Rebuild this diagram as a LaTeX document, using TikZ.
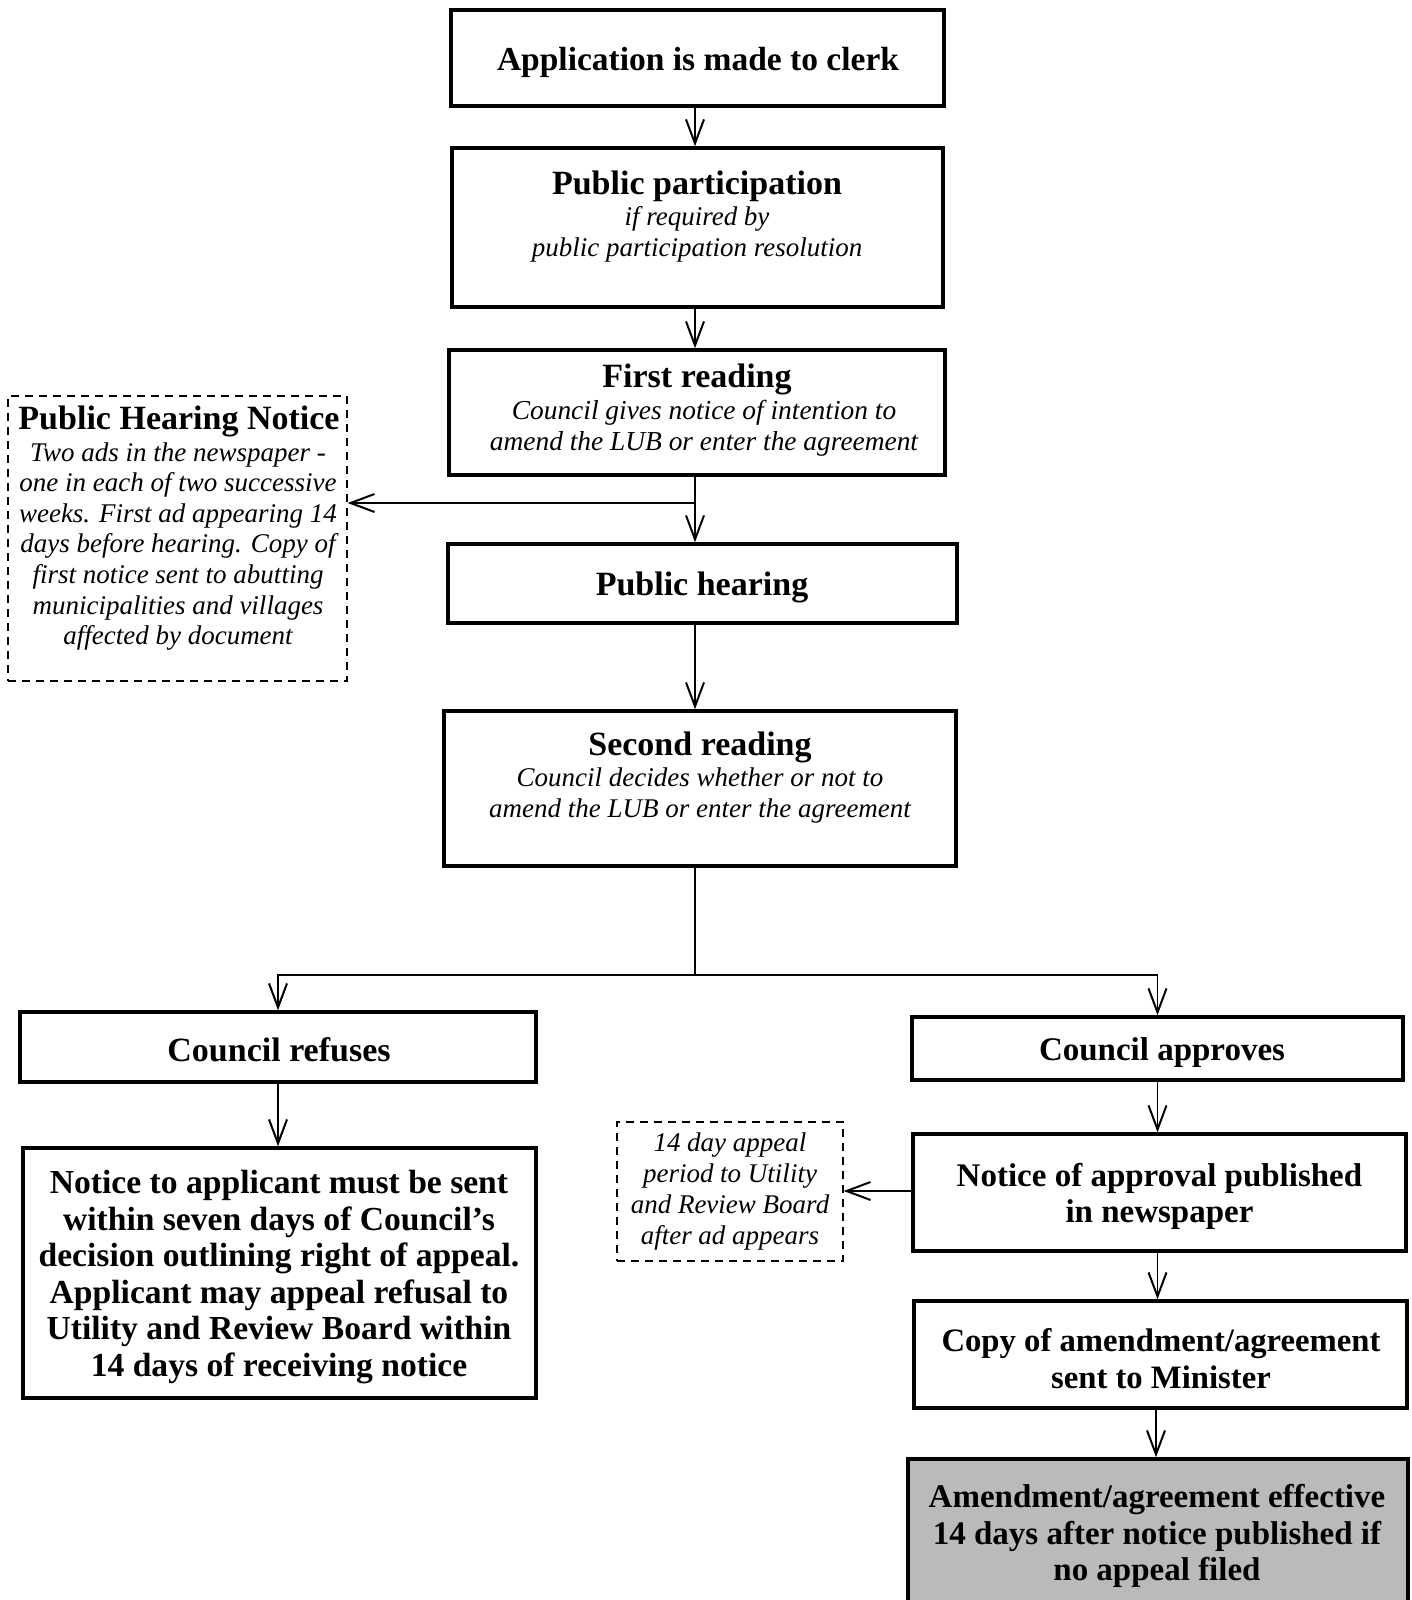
\documentclass[tikz,border=0pt]{standalone}
\usepackage{fontspec}
\setmainfont{Liberation Serif}
\usetikzlibrary{arrows.meta}
\tikzset{
  box/.style={draw, line width=3.5pt, inner sep=0pt},
  dbox/.style={draw, line width=1.3pt, dash pattern=on 8pt off 6pt, inner sep=0pt},
  bt/.style={inner sep=0pt, align=center, yshift=-4pt},
  it/.style={inner sep=0pt, align=center, yshift=-3pt},
  ttl/.style={bt, font=\fontsize{34}{37}\selectfont\bfseries},
  btx/.style={bt, font=\fontsize{33}{36.6}\selectfont\bfseries},
  sub/.style={it, font=\fontsize{27}{30.6}\selectfont\itshape},
  conn/.style={line width=1.3pt, -{Straight Barb[length=24pt,width=18pt,line width=2pt]}},
  plain/.style={line width=1.3pt},
}
\begin{document}
\begin{tikzpicture}[x=1pt,y=-1pt]
\useasboundingbox (0,0) rectangle (1411,1600);
\coordinate (sx) at (695,0);

% main column
\node[box, minimum width=493pt, minimum height=96pt] (app) at (697.5,58) {};
\node[ttl, font=\fontsize{33.5}{37}\selectfont\bfseries] (appt) at (698,58) {Application is made to clerk};

\node[box, minimum width=491pt, minimum height=159pt] (pp) at (697.5,227.5) {};
\node[ttl] (ppt) at (697,182) {Public participation};
\node[sub] (pps) at (697,231.5) {if required by\\public participation resolution};

\node[box, minimum width=496pt, minimum height=125pt] (fr) at (697,412.5) {};
\node[ttl] (frt) at (697,375) {First reading};
\node[sub, font=\fontsize{27.4}{30.6}\selectfont\itshape] (frs) at (704,425.5) {Council gives notice of intention to\\amend the LUB or enter the agreement};

\node[box, minimum width=509pt, minimum height=79pt] (ph) at (702.5,583.5) {};
\node[ttl] (pht) at (702,583.5) {Public hearing};

\node[box, minimum width=512pt, minimum height=155pt] (sr) at (700,788.5) {};
\node[ttl] (srt) at (700,743) {Second reading};
\node[sub] (srs) at (700,792.5) {Council decides whether or not to\\amend the LUB or enter the agreement};

% side note: public hearing notice
\node[dbox, minimum width=339pt, minimum height=285pt] (phn) at (177.5,538.5) {};
\node[ttl] (phnt) at (179,417) {Public Hearing Notice};
\node[sub] (phns) at (178,543.5) {Two ads in the newspaper -\\one in each of two successive\\weeks. First ad appearing 14\\days before hearing. Copy of\\first notice sent to abutting\\municipalities and villages\\affected by document};

% branches
\node[box, minimum width=516pt, minimum height=70pt] (ref) at (278,1047) {};
\node[ttl] (reft) at (279,1046) {Council refuses};
\node[box, minimum width=491pt, minimum height=63pt] (apr) at (1157.5,1048.5) {};
\node[ttl, font=\fontsize{33}{37}\selectfont\bfseries] (aprt) at (1162,1048.5) {Council approves};

\node[box, minimum width=513pt, minimum height=250pt] (nta) at (279.5,1273) {};
\node[btx, font=\fontsize{33.6}{36.6}\selectfont\bfseries] (ntat) at (279,1273) {Notice to applicant must be sent\\within seven days of Council's\\decision outlining right of appeal.\\Applicant may appeal refusal to\\Utility and Review Board within\\14 days of receiving notice};

\node[box, minimum width=493pt, minimum height=117pt] (noa) at (1159.5,1192.5) {};
\node[btx] (noat) at (1159.5,1192.5) {Notice of approval published\\in newspaper};

\node[dbox, minimum width=226pt, minimum height=139pt] (d14) at (730,1191.5) {};
\node[sub, yshift=3pt, font=\fontsize{27}{30.8}\selectfont\itshape] (d14t) at (730,1191.5) {14 day appeal\\period to Utility\\and Review Board\\after ad appears};

\node[box, minimum width=493pt, minimum height=107pt] (cpy) at (1160.5,1354.5) {};
\node[btx, font=\fontsize{32.7}{36.6}\selectfont\bfseries] (cpyt) at (1161,1354.5) {Copy of amendment/agreement\\sent to Minister};

\node[box, fill=black!27, minimum width=500pt, minimum height=171pt] (amd) at (1158,1544.5) {};
\node[btx] (amdt) at (1157,1532) {Amendment/agreement effective\\14 days after notice published if\\no appeal filed};

% connectors
\draw[conn] (sx |- app.south) -- (sx |- pp.north);
\draw[conn] (sx |- pp.south) -- (sx |- fr.north);
\draw[conn] (sx |- fr.south) -- (sx |- ph.north);
\coordinate (b1) at (695,503);
\draw[conn] (b1) -- (b1 -| phn.east);
\draw[conn] (sx |- ph.south) -- (sx |- sr.north);
\coordinate (j) at (695,975);
\draw[plain] (sx |- sr.south) -- (j);
\draw[conn] (j) -| (ref.north);
\draw[conn] (j) -| (apr.north);
\draw[conn] (ref.south) -- (ref.south |- nta.north);
\draw[conn] (apr.south) -- (apr.south |- noa.north);
\draw[conn] (noa.west |- 0,1191) -- (d14.east |- 0,1191);
\draw[conn] (apr.south |- noa.south) -- (apr.south |- cpy.north);
\draw[conn] (cpy.south -| 1156,0) -- (amd.north -| 1156,0);
\end{tikzpicture}
\end{document}
